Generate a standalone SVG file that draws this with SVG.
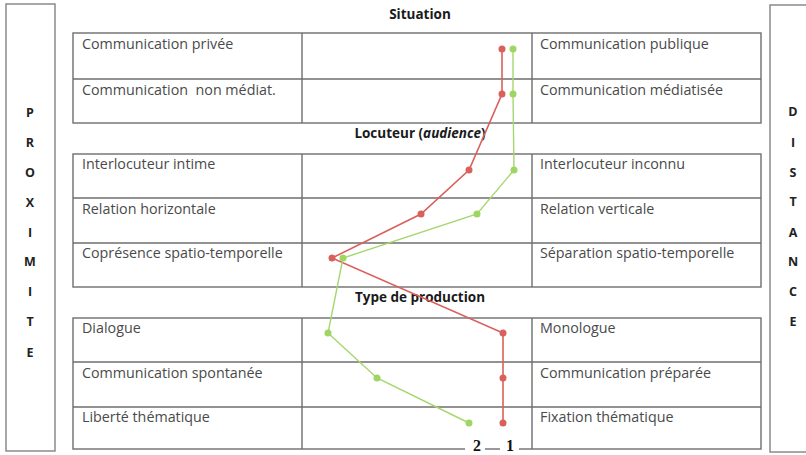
<svg xmlns="http://www.w3.org/2000/svg" width="806" height="455" viewBox="0 0 806 455">
<style>
.panel{fill:#fff;stroke:#8a8a8a;stroke-width:1.5}
.tl{fill:none;stroke:#6e6e6e;stroke-width:1.4}
.cell{font-family:"Open Sans","Liberation Sans",sans-serif;font-size:14.3px;fill:#4a4a4a;white-space:pre}
.head{font-family:"Open Sans","Liberation Sans",sans-serif;font-size:13.5px;font-weight:bold;fill:#1a1a1a;text-anchor:middle}
.side{font-family:"Open Sans","Liberation Sans",sans-serif;font-size:12.5px;font-weight:bold;fill:#222;text-anchor:middle}
.num{font-family:"Liberation Serif",serif;font-size:16px;font-weight:bold;fill:#111;text-anchor:middle}
.r{fill:none;stroke:#d9605c;stroke-width:1.6}
.g{fill:none;stroke:#a6d66e;stroke-width:1.4}
.rd{fill:#d9605c}
.gd{fill:#9fd663}
</style>
<rect width="806" height="455" fill="#fff"/>

<g id="proximite">
<rect class="panel" x="6" y="4" width="49" height="447"/>
<text class="side" x="30" y="117">P</text>
<text class="side" x="30" y="147">R</text>
<text class="side" x="30" y="177">O</text>
<text class="side" x="30" y="207">X</text>
<text class="side" x="30" y="237">I</text>
<text class="side" x="30" y="266">M</text>
<text class="side" x="30" y="296">I</text>
<text class="side" x="30" y="326">T</text>
<text class="side" x="30" y="357">E</text>
</g>

<g id="distance">
<rect class="panel" x="770" y="5" width="45" height="447"/>
<text class="side" x="793" y="116">D</text>
<text class="side" x="793" y="147">I</text>
<text class="side" x="793" y="177">S</text>
<text class="side" x="793" y="206">T</text>
<text class="side" x="793" y="237">A</text>
<text class="side" x="793" y="266">N</text>
<text class="side" x="793" y="296">C</text>
<text class="side" x="793" y="326">E</text>
</g>

<g id="situation">
<text class="head" x="420" y="19">Situation</text>
<rect class="tl" x="73" y="33" width="688" height="90"/>
<line class="tl" x1="73" y1="79" x2="761" y2="79"/>
<line class="tl" x1="302" y1="33" x2="302" y2="123"/>
<line class="tl" x1="532" y1="33" x2="532" y2="123"/>
<g id="row-privee"><text class="cell" x="82" y="49">Communication privée</text><text class="cell" x="540" y="49">Communication publique</text></g>
<g id="row-mediat"><text class="cell" x="82" y="95" xml:space="preserve">Communication  non médiat.</text><text class="cell" x="540" y="95">Communication médiatisée</text></g>
</g>

<g id="locuteur">
<text class="head" x="420" y="138">Locuteur (<tspan font-style="italic">audience</tspan>)</text>
<rect class="tl" x="73" y="154" width="688" height="133"/>
<line class="tl" x1="73" y1="198" x2="761" y2="198"/>
<line class="tl" x1="73" y1="243" x2="761" y2="243"/>
<line class="tl" x1="302" y1="154" x2="302" y2="287"/>
<line class="tl" x1="532" y1="154" x2="532" y2="287"/>
<g id="row-interlocuteur"><text class="cell" x="82" y="169">Interlocuteur intime</text><text class="cell" x="540" y="169">Interlocuteur inconnu</text></g>
<g id="row-relation"><text class="cell" x="82" y="214">Relation horizontale</text><text class="cell" x="540" y="214">Relation verticale</text></g>
<g id="row-spatio"><text class="cell" x="82" y="258">Coprésence spatio-temporelle</text><text class="cell" x="540" y="258">Séparation spatio-temporelle</text></g>
</g>

<g id="production">
<text class="head" x="420" y="302">Type de production</text>
<rect class="tl" x="73" y="318" width="688" height="131"/>
<line class="tl" x1="73" y1="362" x2="761" y2="362"/>
<line class="tl" x1="73" y1="407" x2="761" y2="407"/>
<line class="tl" x1="302" y1="318" x2="302" y2="449"/>
<line class="tl" x1="532" y1="318" x2="532" y2="449"/>
<g id="row-dialogue"><text class="cell" x="82" y="333">Dialogue</text><text class="cell" x="540" y="333">Monologue</text></g>
<g id="row-spontanee"><text class="cell" x="82" y="378">Communication spontanée</text><text class="cell" x="540" y="378">Communication préparée</text></g>
<g id="row-thematique"><text class="cell" x="82" y="422">Liberté thématique</text><text class="cell" x="540" y="422">Fixation thématique</text></g>
</g>

<g id="connectors">
<polyline class="r" points="502,49 502,94 469,170 421,214 332,258 503,333 503,378 503,423"/>
<polyline class="g" points="513,49 513,94 514,170 477,214 343,258 328,333 377,378 469,423"/>
<g class="rd">
<circle cx="502" cy="49" r="3.5"/><circle cx="502" cy="94" r="3.5"/><circle cx="469" cy="170" r="3.5"/><circle cx="421" cy="214" r="3.5"/><circle cx="332" cy="258" r="3.5"/><circle cx="503" cy="333" r="3.5"/><circle cx="503" cy="378" r="3.5"/><circle cx="503" cy="423" r="3.5"/>
</g>
<g class="gd">
<circle cx="513" cy="49" r="3.5"/><circle cx="513" cy="94" r="3.5"/><circle cx="514" cy="170" r="3.5"/><circle cx="477" cy="214" r="3.5"/><circle cx="343" cy="258" r="3.5"/><circle cx="328" cy="333" r="3.5"/><circle cx="377" cy="378" r="3.5"/><circle cx="469" cy="423" r="3.5"/>
</g>
</g>

<g id="series-labels">
<rect x="465" y="439" width="20" height="16" fill="#fff"/>
<rect x="500" y="439" width="19" height="16" fill="#fff"/>
<text class="num" x="477" y="451">2</text>
<text class="num" x="510" y="451">1</text>
</g>
</svg>
